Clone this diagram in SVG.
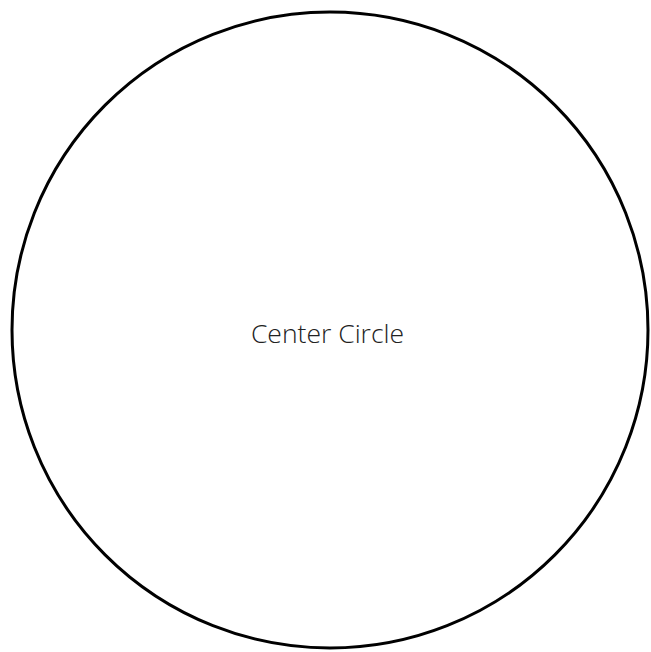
<svg xmlns="http://www.w3.org/2000/svg" width="651" height="652" viewBox="0 0 651 652">
<style>
.node{fill:#ffffff;stroke:#000000;stroke-width:3}
.label{font-family:"Open Sans","Noto Sans",sans-serif;font-weight:300;font-size:26.5px;fill:#222222}
</style>
<rect width="651" height="652" fill="#ffffff"/>
<g id="connectors"></g>
<g id="center-circle">
<circle class="node" cx="330" cy="330" r="318"/>
<text class="label" x="327.5" y="343" text-anchor="middle">Center Circle</text>
</g>
</svg>
